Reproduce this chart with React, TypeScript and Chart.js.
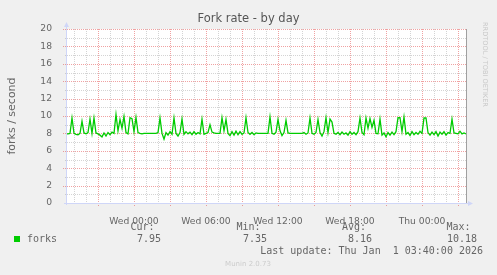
import React, { useEffect, useRef } from 'react';
import { Chart, registerables } from 'chart.js';

Chart.register(...registerables);

const TITLE = 'Fork rate - by day';
const Y_TITLE = 'forks / second';
const SERIES_NAME = 'forks';
const SERIES_COLOR = '#00cc00';
const STEP_MINUTES = 10;
const SPAN_MINUTES = 2000;
const Y_MAX = 20;

const FORKS = [
  7.95, 7.95, 8.0, 9.77, 8.0, 7.9, 7.85, 8.0, 9.4, 8.05,
  7.95, 8.1, 9.65, 8.0, 9.77, 8.05, 7.95, 7.8, 7.6, 8.05,
  7.7, 8.1, 7.85, 8.15, 8.0, 10.18, 8.3, 9.6, 8.6, 9.95,
  8.1, 7.95, 9.8, 9.7, 8.2, 9.85, 8.1, 8.0, 7.95, 8.0,
  8.0, 8.0, 8.0, 8.0, 8.0, 8.0, 8.1, 9.77, 8.0, 7.35,
  8.1, 7.8, 8.2, 7.9, 9.77, 8.0, 7.7, 8.1, 9.65, 7.9,
  8.2, 7.95, 8.15, 7.85, 8.2, 7.9, 8.1, 7.95, 9.65, 7.9,
  8.0, 8.1, 9.0, 8.15, 8.05, 8.0, 8.0, 8.0, 9.8, 8.3,
  9.6, 8.0, 7.75, 8.2, 7.8, 8.25, 7.85, 8.2, 7.9, 8.05,
  9.8, 8.1, 7.9, 8.1, 7.85, 8.05, 8.0, 8.0, 8.0, 8.0,
  8.0, 8.0, 9.9, 8.0, 7.9, 8.15, 9.6, 8.3, 7.75, 8.1,
  9.5, 8.05, 8.0, 8.0, 8.0, 8.0, 8.0, 8.0, 8.0, 8.1,
  7.9, 8.05, 9.77, 8.0, 7.9, 8.1, 9.6, 8.1, 7.7, 8.2,
  9.8, 8.1, 9.65, 9.3, 8.0, 7.9, 8.1, 7.85, 8.15, 7.9,
  8.05, 7.8, 8.2, 7.9, 8.1, 7.85, 8.2, 9.77, 8.1, 7.85,
  9.77, 8.6, 9.7, 8.7, 9.5, 8.0, 7.95, 9.65, 7.8, 8.05,
  7.6, 8.1, 7.8, 8.15, 7.85, 8.2, 9.8, 9.8, 8.2, 9.9,
  7.9, 8.1, 7.75, 8.2, 7.85, 8.1, 7.9, 8.25, 8.0, 9.77,
  9.77, 8.1, 7.8, 8.15, 7.85, 8.2, 7.7, 8.15, 7.9, 8.2,
  7.8, 8.1, 8.0, 9.65, 8.05, 8.0, 7.95, 8.25, 7.95, 8.05,
  7.95,
];

const X_TICK_MINUTES = [340, 700, 1060, 1420, 1780];
const X_TICK_LABELS = ['Wed 00:00', 'Wed 06:00', 'Wed 12:00', 'Wed 18:00', 'Thu 00:00'];
const MINOR_GRID_FIRST = 40;
const MINOR_GRID_EVERY = 60;
const MAJOR_GRID_FIRST = 160;
const MAJOR_GRID_EVERY = 180;

const STAT_NAMES = ['Cur:', 'Min:', 'Avg:', 'Max:'];
const STAT_VALUES = ['7.95', '7.35', '8.16', '10.18'];
const LAST_UPDATE = 'Last update: Thu Jan  1 03:40:00 2026';
const MUNIN_VERSION = 'Munin 2.0.73';
const WATERMARK = 'RRDTOOL / TOBI OETIKER';

const FONT_COLOR = '#666666';
const AXIS_COLOR = '#cfd6f8';
const MONO = '"DejaVu Sans Mono", monospace';
const SANS = '"DejaVu Sans", sans-serif';

const muninPlugin = {
  id: 'munin',
  beforeDraw(chart: any) {
    const { ctx, chartArea: a, scales } = chart;
    const xs = scales.x;
    const ys = scales.y;
    ctx.save();
    ctx.fillStyle = '#f0f0f0';
    ctx.fillRect(0, 0, chart.width, chart.height);
    ctx.fillStyle = '#ffffff';
    ctx.fillRect(a.left, a.top, a.right - a.left, a.bottom - a.top);
    ctx.lineWidth = 1;
    const vline = (m: number, ext: number) => {
      const px = Math.round(xs.getPixelForValue(m)) + 0.5;
      ctx.beginPath();
      ctx.moveTo(px, a.top);
      ctx.lineTo(px, a.bottom + ext);
      ctx.stroke();
    };
    const hline = (v: number, ext: number) => {
      const py = Math.round(ys.getPixelForValue(v)) + 0.5;
      ctx.beginPath();
      ctx.moveTo(a.left - ext, py);
      ctx.lineTo(a.right, py);
      ctx.stroke();
    };
    ctx.setLineDash([1, 1]);
    ctx.strokeStyle = 'rgba(143,143,143,0.38)';
    for (let m = MINOR_GRID_FIRST; m < SPAN_MINUTES; m += MINOR_GRID_EVERY) {
      if ((m - MAJOR_GRID_FIRST) % MAJOR_GRID_EVERY === 0) continue;
      vline(m, 1);
    }
    for (let v = 1; v < Y_MAX; v += 2) hline(v, 1);
    ctx.strokeStyle = 'rgba(222,48,48,0.45)';
    for (let m = MAJOR_GRID_FIRST; m < SPAN_MINUTES; m += MAJOR_GRID_EVERY) vline(m, 3);
    for (let v = 2; v <= Y_MAX; v += 2) hline(v, 3);
    ctx.restore();
  },
  afterDatasetsDraw(chart: any) {
    const { ctx, chartArea: a } = chart;
    ctx.save();
    ctx.lineWidth = 1;
    ctx.strokeStyle = '#a0a0a0';
    ctx.beginPath();
    ctx.moveTo(a.right + 0.5, a.top);
    ctx.lineTo(a.right + 0.5, a.bottom);
    ctx.stroke();
    ctx.strokeStyle = AXIS_COLOR;
    ctx.beginPath();
    ctx.moveTo(a.left + 0.5, a.bottom + 2);
    ctx.lineTo(a.left + 0.5, a.top - 4);
    ctx.moveTo(a.left - 2, a.bottom + 0.5);
    ctx.lineTo(a.right + 4, a.bottom + 0.5);
    ctx.stroke();
    ctx.fillStyle = AXIS_COLOR;
    ctx.beginPath();
    ctx.moveTo(a.left - 2, a.top - 2);
    ctx.lineTo(a.left + 3, a.top - 2);
    ctx.lineTo(a.left + 0.5, a.top - 7);
    ctx.closePath();
    ctx.fill();
    ctx.beginPath();
    ctx.moveTo(a.right + 2, a.bottom - 2);
    ctx.lineTo(a.right + 2, a.bottom + 3);
    ctx.lineTo(a.right + 7, a.bottom + 0.5);
    ctx.closePath();
    ctx.fill();
    ctx.restore();
  },
  afterDraw(chart: any) {
    const { ctx } = chart;
    ctx.save();
    ctx.textBaseline = 'middle';
    ctx.fillStyle = '#555555';
    ctx.font = `11.5px ${SANS}`;
    ctx.textAlign = 'center';
    ctx.fillText(TITLE, 248.5, 19);
    ctx.save();
    ctx.translate(485, 22);
    ctx.rotate(Math.PI / 2);
    ctx.fillStyle = '#c8c8c8';
    ctx.font = `6.6px ${SANS}`;
    ctx.textAlign = 'left';
    ctx.fillText(WATERMARK, 0, 0);
    ctx.restore();
    ctx.fillStyle = SERIES_COLOR;
    ctx.fillRect(14, 236, 6, 6);
    ctx.fillStyle = FONT_COLOR;
    ctx.font = `10px ${MONO}`;
    ctx.textAlign = 'left';
    ctx.fillText(SERIES_NAME, 27, 239.5);
    const headRight = [154.5, 260.5, 366, 470.5];
    const valRight = [161, 267, 372, 477];
    ctx.textAlign = 'right';
    STAT_NAMES.forEach((s, i) => ctx.fillText(s, headRight[i], 227.5));
    STAT_VALUES.forEach((s, i) => ctx.fillText(s, valRight[i], 239.5));
    ctx.fillText(LAST_UPDATE, 483, 251.7);
    ctx.fillStyle = '#cccccc';
    ctx.font = `7px ${SANS}`;
    ctx.textAlign = 'center';
    ctx.fillText(MUNIN_VERSION, 248, 264);
    ctx.restore();
  },
};

export default function App() {
  const ref = useRef<HTMLCanvasElement | null>(null);
  useEffect(() => {
    if (!ref.current) return;
    const chart = new Chart(ref.current, {
      type: 'line',
      data: {
        datasets: [
          {
            label: SERIES_NAME,
            data: FORKS.map((v, i) => ({ x: i * STEP_MINUTES, y: v })),
            borderColor: SERIES_COLOR,
            borderWidth: 1.3,
            pointRadius: 0,
            tension: 0,
            fill: false,
          },
        ],
      },
      options: {
        responsive: false,
        animation: false,
        devicePixelRatio: 1,
        layout: { padding: { left: 0, right: 31, top: 29, bottom: 0 } },
        plugins: { legend: { display: false }, tooltip: { enabled: false }, title: { display: false } },
        scales: {
          x: {
            type: 'linear',
            min: 0,
            max: SPAN_MINUTES,
            grid: { display: false },
            border: { display: false },
            afterFit: (s: any) => { s.height = 72; },
            afterBuildTicks: (s: any) => { s.ticks = X_TICK_MINUTES.map((v) => ({ value: v })); },
            ticks: {
              autoSkip: false,
              maxRotation: 0,
              padding: 5,
              color: FONT_COLOR,
              font: { family: SANS, size: 9.2 },
              callback: (v: any) => X_TICK_LABELS[X_TICK_MINUTES.indexOf(Number(v))] ?? '',
            },
          },
          y: {
            type: 'linear',
            min: 0,
            max: Y_MAX,
            grid: { display: false },
            border: { display: false },
            afterFit: (s: any) => { s.width = 66; },
            ticks: {
              stepSize: 2,
              padding: 6,
              color: FONT_COLOR,
              font: { family: SANS, size: 9.2 },
            },
            title: {
              display: true,
              text: Y_TITLE,
              color: FONT_COLOR,
              font: { family: SANS, size: 11 },
              padding: { top: 6, bottom: 0 },
            },
          },
        },
      },
      plugins: [muninPlugin],
    });
    return () => chart.destroy();
  }, []);
  return (
    <div style={{ position: 'absolute', left: 0, top: 0, width: 497, height: 275, background: '#f0f0f0' }}>
      <canvas ref={ref} width={497} height={275} style={{ display: 'block', width: 497, height: 275 }} />
    </div>
  );
}
